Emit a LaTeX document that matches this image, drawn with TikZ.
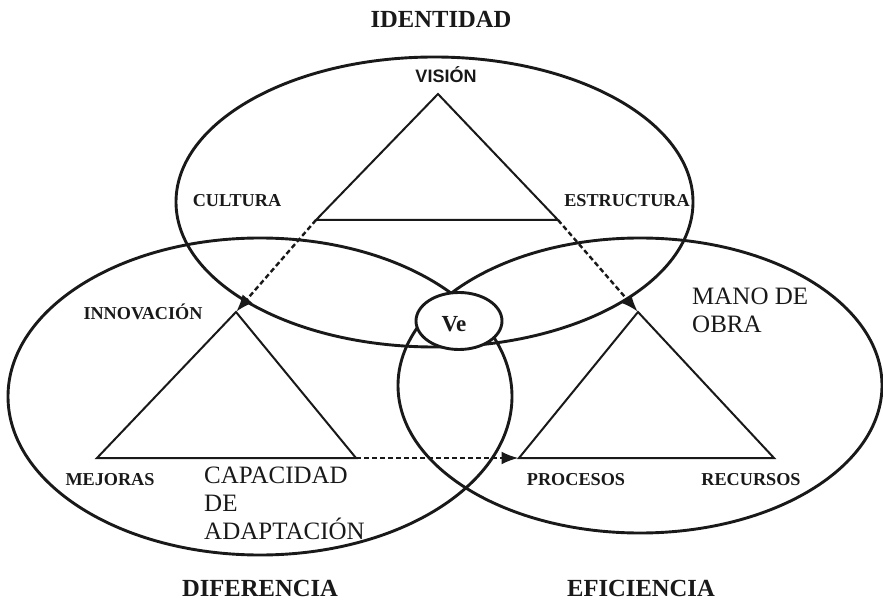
\documentclass[tikz,border=0pt]{standalone}
\usepackage{fontspec}
\setmainfont{Liberation Serif}
\newfontfamily\sansf{Liberation Sans}
\usetikzlibrary{arrows.meta}
\tikzset{
  bigell/.style={draw=black!90, line width=2.9pt},
  tri/.style={draw=black!90, line width=2pt, line join=miter},
  darrow/.style={draw=black!90, line width=2.4pt, dash pattern=on 5pt off 3pt,
    -{Latex[length=17pt,width=13pt]}, shorten >=0.5pt},
  lbl/.style={font=\bfseries\fontsize{18.2}{20}\selectfont, inner sep=0pt, anchor=base, text=black!90},
  ttl/.style={font=\bfseries\fontsize{24.6}{28}\selectfont, inner sep=0pt, anchor=base, text=black!90},
  reg/.style={font=\fontsize{25}{28}\selectfont, inner sep=0pt, anchor=base west, text=black!90}
}
\begin{document}
\begin{tikzpicture}[x=1pt,y=-1pt]
\useasboundingbox (0,0) rectangle (883,601);
% big ellipses
\coordinate (ctop) at (434.5,202);
\coordinate (cleft) at (260,396.5);
\coordinate (cright) at (640,385.5);
\coordinate (cve) at (459,321);
\draw[bigell] (ctop) ellipse [x radius=258.5pt, y radius=145pt];
\draw[bigell] (cleft) ellipse [x radius=252pt, y radius=158.5pt];
\draw[bigell] (cright) ellipse [x radius=242pt, y radius=147.5pt];
\draw[bigell, fill=white] (cve) ellipse [x radius=43pt, y radius=28.5pt];
% triangles
\coordinate (ta) at (438,94);
\coordinate (tl) at (316,220);
\coordinate (tr) at (558,220);
\coordinate (la) at (236,312);
\coordinate (ll) at (97,458);
\coordinate (lr) at (356,458);
\coordinate (ra) at (638,312);
\coordinate (rl) at (519,458);
\coordinate (rr) at (774,458);
\draw[tri] (ta) -- (tl) -- (tr) -- cycle;
\draw[tri] (la) -- (ll) -- (lr) -- cycle;
\draw[tri] (ra) -- (rl) -- (rr) -- cycle;
% dashed arrows
\draw[darrow] (tl) -- (la);
\draw[darrow] (tr) -- (ra);
\draw[darrow] (lr) -- (rl);
% labels
\node[ttl] (identidad) at (441,28) {IDENTIDAD};
\node[lbl, font=\sansf\bfseries\fontsize{18}{20}\selectfont] (vision) at (446,83) {VISIÓN};
\node[lbl] (cultura) at (237,207) {CULTURA};
\node[lbl] (estructura) at (627,207) {ESTRUCTURA};
\node[lbl] (innovacion) at (143,320) {INNOVACIÓN};
\node[lbl] (mejoras) at (110,485) {MEJORAS};
\node[lbl] (procesos) at (576,485) {PROCESOS};
\node[lbl] (recursos) at (751,485) {RECURSOS};
\node[ttl, font=\bfseries\fontsize{23}{26}\selectfont] (ve) at (454,332) {Ve};
\node[reg] (cap1) at (204,483) {CAPACIDAD};
\node[reg] (cap2) at (204,511) {DE};
\node[reg] (cap3) at (204,539) {ADAPTACIÓN};
\node[reg] (mano1) at (692,305) {MANO DE};
\node[reg] (mano2) at (692,333) {OBRA};
\node[ttl] (diferencia) at (260,596) {DIFERENCIA};
\node[ttl] (eficiencia) at (641,596) {EFICIENCIA};
\end{tikzpicture}
\end{document}
